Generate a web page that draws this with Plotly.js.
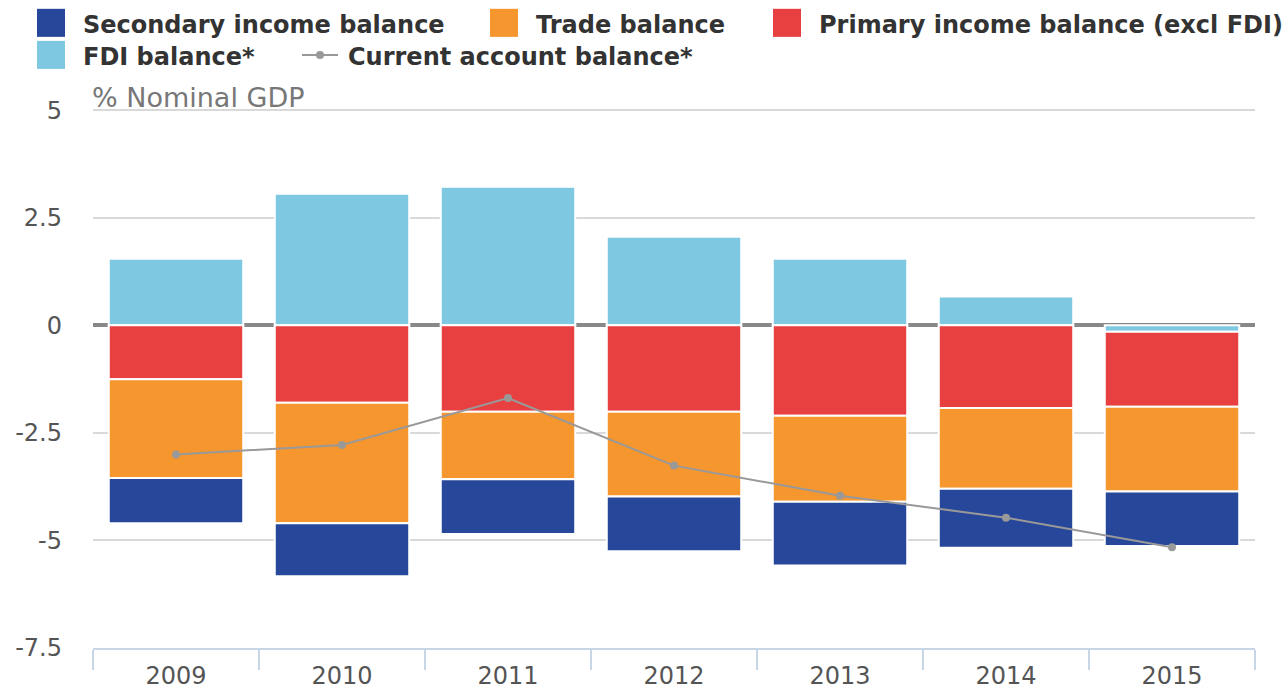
<!DOCTYPE html>
<html>
<head>
<meta charset="utf-8">
<script src="https://cdn.plot.ly/plotly-3.0.1.min.js"></script>
<style>
  html, body { margin: 0; padding: 0; background: #fff; }
  #chart { width: 1288px; height: 693px; }
</style>
</head>
<body>
<div id="chart"></div>
<script>
const years = ['2009', '2010', '2011', '2012', '2013', '2014', '2015'];

// % of nominal GDP
const fdiBalance = [1.55, 3.06, 3.22, 2.06, 1.55, 0.67, -0.15];
const primaryIncome = [-1.25, -1.8, -2.01, -2.01, -2.1, -1.92, -1.74];
const tradeBalance = [-2.3, -2.8, -1.57, -1.97, -2.0, -1.88, -1.97];
const secondaryIncome = [-1.05, -1.23, -1.27, -1.27, -1.48, -1.37, -1.27];
const currentAccount = [-3.0, -2.78, -1.69, -3.26, -3.96, -4.47, -5.16];

const yTicks = [-7.5, -5, -2.5, 0, 2.5, 5];
const yTickText = ['-7.5', '-5', '-2.5', '0', '2.5', '5'];

const colors = {
  secondary: '#27479a',
  trade: '#f5962f',
  primary: '#e83f40',
  fdi: '#7ec9e1',
  current: '#999999',
};

// plot area in pixels, used to place the hand made legend
const plotLeft = 93;
const plotRight = 1255;
const plotTop = 110;
const plotBottom = 648;

const toPaperX = (px) => (px - plotLeft) / (plotRight - plotLeft);
const toPaperY = (py) => (plotBottom - py) / (plotBottom - plotTop);

const barTrace = (name, values, color) => ({
  type: 'bar',
  name: name,
  x: years,
  y: values,
  marker: { color: color, line: { color: '#ffffff', width: 2 } },
  showlegend: false,
  hoverinfo: 'x+y+name',
});

// stacking order: FDI first so the small 2015 negative sits on the zero line
const data = [
  barTrace('FDI balance*', fdiBalance, colors.fdi),
  barTrace('Primary income balance (excl FDI)', primaryIncome, colors.primary),
  barTrace('Trade balance', tradeBalance, colors.trade),
  barTrace('Secondary income balance', secondaryIncome, colors.secondary),
  {
    type: 'scatter',
    mode: 'lines+markers',
    name: 'Current account balance*',
    x: years,
    y: currentAccount,
    line: { color: colors.current, width: 2 },
    marker: { color: colors.current, size: 8 },
    showlegend: false,
  },
];

const legendItems = [
  { name: 'Secondary income balance', color: colors.secondary, x: 37, y: 24, kind: 'box' },
  { name: 'Trade balance', color: colors.trade, x: 490, y: 24, kind: 'box' },
  { name: 'Primary income balance (excl FDI)', color: colors.primary, x: 773, y: 24, kind: 'box' },
  { name: 'FDI balance*', color: colors.fdi, x: 37, y: 56, kind: 'box' },
  { name: 'Current account balance*', color: colors.current, x: 302, y: 56, kind: 'line' },
];

const shapes = [];
const annotations = [];

legendItems.forEach((item) => {
  if (item.kind === 'box') {
    shapes.push({
      type: 'rect', xref: 'paper', yref: 'paper',
      x0: toPaperX(item.x), x1: toPaperX(item.x + 28),
      y0: toPaperY(item.y - 14), y1: toPaperY(item.y + 14),
      fillcolor: item.color, line: { width: 0 },
    });
  } else {
    shapes.push({
      type: 'line', xref: 'paper', yref: 'paper',
      x0: toPaperX(item.x), x1: toPaperX(item.x + 36),
      y0: toPaperY(item.y), y1: toPaperY(item.y),
      line: { color: item.color, width: 2 },
    });
    shapes.push({
      type: 'circle', xref: 'paper', yref: 'paper',
      x0: toPaperX(item.x + 14), x1: toPaperX(item.x + 22),
      y0: toPaperY(item.y - 4), y1: toPaperY(item.y + 4),
      fillcolor: item.color, line: { width: 0 },
    });
  }
  annotations.push({
    xref: 'paper', yref: 'paper',
    x: toPaperX(item.x + 44), y: toPaperY(item.y + 2),
    xanchor: 'left', yanchor: 'middle',
    text: item.name,
    showarrow: false,
    font: { family: 'DejaVu Sans', size: 24, color: '#333333', weight: 'bold' },
  });
});

annotations.push({
  xref: 'paper', yref: 'paper',
  x: 0, y: 1,
  xanchor: 'left', yanchor: 'bottom',
  xshift: -3,
  yshift: -6,
  text: '% Nominal GDP',
  showarrow: false,
  font: { family: 'DejaVu Sans', size: 27, color: '#777777' },
});

const layout = {
  width: 1288,
  height: 693,
  margin: { l: plotLeft, r: 1288 - plotRight, t: plotTop - 1, b: 693 - plotBottom },
  paper_bgcolor: '#ffffff',
  plot_bgcolor: '#ffffff',
  barmode: 'relative',
  bargap: 0.19,
  showlegend: false,
  font: { family: 'DejaVu Sans', color: '#555555' },
  xaxis: {
    type: 'category',
    tickson: 'boundaries',
    ticks: 'outside',
    ticklen: 20,
    tickwidth: 2,
    tickcolor: '#c8d5e5',
    showline: true,
    linecolor: '#c8d5e5',
    linewidth: 2,
    showgrid: false,
    ticklabelstandoff: 5,
    tickfont: { size: 24, color: '#555555' },
    fixedrange: true,
  },
  yaxis: {
    range: [-7.5, 5.03],
    tickvals: yTicks,
    ticktext: yTickText,
    tickfont: { size: 24, color: '#555555' },
    ticks: '',
    ticklabelstandoff: 30,
    showgrid: true,
    gridcolor: '#d9d9d9',
    gridwidth: 2,
    zeroline: true,
    zerolinecolor: '#888888',
    zerolinewidth: 4,
    showline: false,
    fixedrange: true,
  },
  shapes: shapes,
  annotations: annotations,
};

Plotly.newPlot('chart', data, layout, { displayModeBar: false, staticPlot: true });
</script>
</body>
</html>
